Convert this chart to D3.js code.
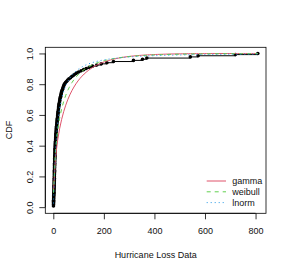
<!DOCTYPE html>
<html><head><meta charset="utf-8">
<script src="https://cdn.jsdelivr.net/npm/d3@7"></script>
<style>body{margin:0;background:#fff}svg{display:block}text{font-family:"Liberation Sans",Arial,sans-serif;fill:#111}</style>
</head><body><svg id="c" width="289" height="273"></svg>
<script>
const lossData = [0.7,0.8,0.9,1.0,1.1,1.2,1.35,1.5,1.7,1.9,2.1,2.3,2.5,2.65,2.8,3.0,3.1,3.2,3.3,3.4,
3.6,3.7,3.8,3.9,4.0,4.1,4.2,4.3,4.4,4.5,4.6,4.7,4.8,4.9,5.0,5.1,5.2,5.3,5.4,5.5,
5.65,5.8,5.95,6.1,6.25,6.4,6.55,6.7,6.9,7.1,7.3,7.45,7.6,7.8,8.1,8.4,8.7,9.0,9.3,9.6,
9.9,10.2,10.5,10.8,11.1,11.4,11.7,12.1,12.5,12.9,13.4,13.9,14.4,14.9,15.4,15.9,16.4,16.9,17.3,17.7,
18.2,18.8,19.4,20.0,20.5,20.9,21.4,22.2,23.0,23.8,24.6,25.3,26.0,27.0,28.0,29.0,30.0,31.0,32.0,33.2,
34.8,36.5,38.0,39.6,41.2,43.0,45.5,49,53,57,62,68,73,79,85,92,100,110,120,130,
142,155,172,190,212,238,317,353,370,542,573,720,809];
const distNames = ["gamma","weibull","lnorm"];
const xTicks = [0,200,400,600,800];
const yTicks = [0,0.2,0.4,0.6,0.8,1.0];
const xLabel = "Hurricane Loss Data";
const yLabel = "CDF";

const distColors = ["#DF536B","#61D04F","#2297E6"];
const distDash = [null,"4,4","1,3"];

// ---- numerics
function lgamma(z){const c=[0.99999999999980993,676.5203681218851,-1259.1392167224028,771.32342877765313,-176.61502916214059,12.507343278686905,-0.13857109526572012,9.9843695780195716e-6,1.5056327351493116e-7];
 if(z<0.5) return Math.log(Math.PI/Math.abs(Math.sin(Math.PI*z)))-lgamma(1-z);
 z-=1;let x=c[0];for(let i=1;i<9;i++)x+=c[i]/(z+i);const t=z+7.5;return 0.5*Math.log(2*Math.PI)+(z+0.5)*Math.log(t)-t+Math.log(x);}
function digamma(x){let r=0;while(x<6){r-=1/x;x+=1;}const f=1/(x*x);return r+Math.log(x)-0.5/x-f*(1/12-f*(1/120-f*(1/252-f*(1/240-f/132))));}
function gammaP(a,x){if(x<=0)return 0;
 if(x<a+1){let sum=1/a,del=sum,ap=a;for(let n=0;n<1000;n++){ap+=1;del*=x/ap;sum+=del;if(Math.abs(del)<Math.abs(sum)*1e-13)break;}return sum*Math.exp(-x+a*Math.log(x)-lgamma(a));}
 let b=x+1-a,c=1e300,d=1/b,h=d;for(let i=1;i<1000;i++){const an=-i*(i-a);b+=2;d=an*d+b;if(Math.abs(d)<1e-300)d=1e-300;c=b+an/c;if(Math.abs(c)<1e-300)c=1e-300;d=1/d;const del=d*c;h*=del;if(Math.abs(del-1)<1e-13)break;}
 return 1-Math.exp(-x+a*Math.log(x)-lgamma(a))*h;}
function erfc(x){const z=Math.abs(x),t=1/(1+0.5*z);const r=t*Math.exp(-z*z-1.26551223+t*(1.00002368+t*(0.37409196+t*(0.09678418+t*(-0.18628806+t*(0.27886807+t*(-1.13520398+t*(1.48851587+t*(-0.82215223+t*0.17087277)))))))));return x>=0?r:2-r;}
function pnorm(z){return 0.5*erfc(-z/Math.SQRT2);}
function bisect(f,lo,hi){let flo=f(lo);for(let i=0;i<200;i++){const m=(lo+hi)/2,fm=f(m);if((fm>0)===(flo>0)){lo=m;flo=fm;}else hi=m;}return (lo+hi)/2;}

// ---- maximum-likelihood fits of the three distributions to the data
const n=lossData.length;
const logs=lossData.map(Math.log);
const mlog=d3.mean(logs), mx=d3.mean(lossData);
const sdlog=Math.sqrt(d3.mean(logs,v=>(v-mlog)*(v-mlog)));
const sG=Math.log(mx)-mlog;
const gShape=bisect(a=>Math.log(a)-digamma(a)-sG,0.01,100);
const gRate=gShape/mx;
const wShape=bisect(k=>{let s1=0,s2=0;for(const x of lossData){const p=Math.pow(x,k);s1+=p*Math.log(x);s2+=p;}return s1/s2-1/k-mlog;},0.02,10);
const wScale=Math.pow(d3.mean(lossData,x=>Math.pow(x,wShape)),1/wShape);
const cdfs=[x=>gammaP(gShape,gRate*x), x=>1-Math.exp(-Math.pow(x/wScale,wShape)), x=>pnorm((Math.log(x)-mlog)/sdlog)];

// ---- layout
const L=45.3,R=266,T=47.3,B=213.3;
const [xmin,xmax]=d3.extent(lossData);const rx=xmax-xmin;
const x=d3.scaleLinear().domain([xmin-0.04*rx,xmax+0.04*rx]).range([L,R]);
const y=d3.scaleLinear().domain([-0.04,1.04]).range([B,T]);
const svg=d3.select("#c");

// ecdf
const sorted=lossData.slice().sort((a,b)=>a-b);
const ec=sorted.map((v,i)=>({x:v,y:(i+1)/n}));
const g0=svg.append("g");
g0.selectAll("line.h").data(ec.slice(0,-1)).join("line").attr("x1",d=>x(d.x)).attr("x2",(d,i)=>x(ec[i+1].x))
 .attr("y1",d=>y(d.y)).attr("y2",d=>y(d.y)).attr("stroke","#000").attr("stroke-width",1);
g0.selectAll("circle").data(ec).join("circle").attr("cx",d=>x(d.x)).attr("cy",d=>y(d.y)).attr("r",1.8).attr("fill","#000");

// fitted curves
const grid=d3.range(101).map(i=>xmin+i*rx/100);
const line=d3.line().x(d=>x(d[0])).y(d=>y(d[1]));
cdfs.forEach((f,k)=>{
 svg.append("path").datum(grid.map(v=>[v,f(v)])).attr("d",line).attr("fill","none")
  .attr("stroke",distColors[k]).attr("stroke-width",1).attr("stroke-dasharray",distDash[k]);
});

// box
svg.append("rect").attr("x",L).attr("y",T).attr("width",R-L).attr("height",B-T).attr("fill","none").attr("stroke","#000").attr("stroke-width",0.8);

// axes
const xa=svg.append("g").attr("transform",`translate(0,${B})`).call(d3.axisBottom(x).tickValues(xTicks).tickSize(6).tickSizeOuter(0).tickFormat(d3.format("d")));
const ya=svg.append("g").attr("transform",`translate(${L},0)`).call(d3.axisLeft(y).tickValues(yTicks).tickSize(6).tickSizeOuter(0).tickFormat(d3.format(".1f")));
[xa,ya].forEach(a=>{a.select(".domain").attr("stroke","#000").attr("stroke-width",0.8);a.selectAll(".tick line").attr("stroke","#000").attr("stroke-width",0.8);a.selectAll("text").attr("font-size",9).attr("fill","#111").attr("font-family","Liberation Sans, Arial, sans-serif");});
xa.select(".domain").attr("d",`M${x(xTicks[0])},0H${x(xTicks[xTicks.length-1])}`);
ya.select(".domain").attr("d",`M0,${y(yTicks[0])}V${y(yTicks[yTicks.length-1])}`);
xa.selectAll(".tick text").attr("dy",null).attr("y",21.2);
ya.selectAll(".tick text").attr("x",null).attr("dy",null).attr("text-anchor","middle")
 .attr("transform","translate(-12,0) rotate(-90)").attr("y",0);

svg.append("text").attr("x",(L+R)/2).attr("y",258).attr("text-anchor","middle").attr("font-size",9).text(xLabel);
svg.append("text").attr("transform","translate(12.3,130) rotate(-90)").attr("text-anchor","middle").attr("font-size",9).text(yLabel);

// legend
const lg=svg.append("g");
distNames.forEach((nm,k)=>{
 const yy=181+k*10.8;
 lg.append("line").attr("x1",206.7).attr("x2",226).attr("y1",yy).attr("y2",yy).attr("stroke",distColors[k]).attr("stroke-width",1).attr("stroke-dasharray",distDash[k]);
 lg.append("text").attr("x",232.3).attr("y",yy).attr("dy","0.33em").attr("font-size",9).text(nm);
});
</script></body></html>
